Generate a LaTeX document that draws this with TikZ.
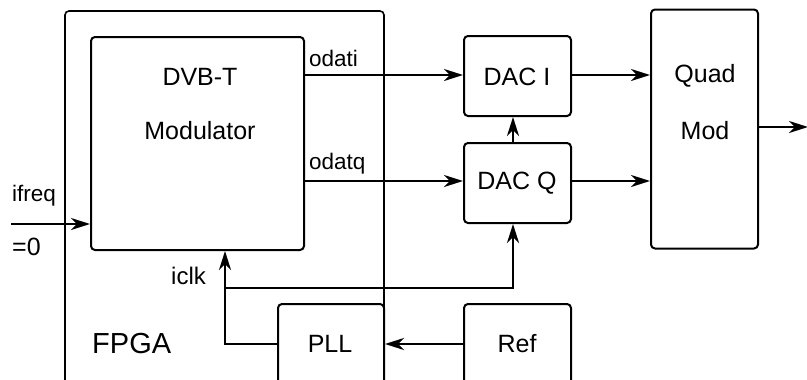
\documentclass[tikz,border=0pt]{standalone}
\usepackage{fontspec}
\setmainfont{Liberation Sans}
\usetikzlibrary{arrows.meta}
\begin{document}
\begin{tikzpicture}[x=1pt,y=-1pt,
  box/.style={draw, line width=2pt, rounded corners=4pt, inner sep=0pt},
  outer/.style={draw, line width=1.6pt, rounded corners=4pt, inner sep=0pt},
  arr/.style={line width=2.6pt, -{Stealth[length=19pt,width=12pt,inset=6pt]}},
  wire/.style={line width=2.6pt},
  big/.style={font=\fontsize{25}{28}\selectfont, inner sep=0pt},
  small/.style={font=\fontsize{22.5}{26}\selectfont, inner sep=0pt, anchor=west},
]
\useasboundingbox (0,0) rectangle (807,380);
\clip (0,0) rectangle (807,380);
% boxes
\node[outer, minimum width=319pt, minimum height=399pt] (fpga) at (224.5,210.5) {};
\node[box, minimum width=213pt, minimum height=213pt] (dvb) at (197.5,143.5) {};
\node[box, minimum width=107pt, minimum height=80pt] (daci) at (517.5,76) {};
\node[box, minimum width=107pt, minimum height=80pt] (dacq) at (517.5,183) {};
\node[box, minimum width=107pt, minimum height=239pt] (quad) at (704.5,129) {};
\node[box, minimum width=106pt, minimum height=116pt] (pll) at (331,362) {};
\node[box, minimum width=107pt, minimum height=116pt] (ref) at (517.5,362) {};
% texts
\node[big] (t1) at (200,77) {DVB-T};
\node[big] (t2) at (200,131) {Modulator};
\node[big] (t3) at (517,77) {DAC I};
\node[big] (t4) at (517,183) {DAC Q};
\node[big] (t5) at (705,76) {Quad};
\node[big] (t6) at (705,131) {Mod};
\node[big] (t7) at (330,344) {PLL};
\node[big] (t8) at (517,344) {Ref};
\node[font=\fontsize{29}{32}\selectfont, inner sep=0pt, anchor=west] (t9) at (92,344) {FPGA};
\node[small] (l1) at (309,58) {odati};
\node[small] (l2) at (309,164) {odatq};
\node[small] (l3) at (12,196) {ifreq};
\node[small, font=\fontsize{25}{28}\selectfont] (l4) at (12,247) {=0};
\node[small, font=\fontsize{24}{27}\selectfont] (l5) at (171,276) {iclk};
% coordinates
\coordinate (row) at (0,344);
\coordinate (ck) at (225,288);
\coordinate (inl) at (11,224);
\coordinate (outr) at (808,127);
% connectors
\draw[arr] (dvb.east |- 0,75) -- (daci.west |- 0,75);
\draw[arr] (dvb.east |- 0,181) -- (dacq.west |- 0,181);
\draw[arr] (daci.east |- 0,75) -- (quad.west |- 0,75);
\draw[arr] (dacq.east |- 0,181) -- (quad.west |- 0,181);
\draw[arr] ([xshift=-4.5pt]dacq.north) -- ([xshift=-4.5pt]daci.south);
\draw[arr] (quad.east |- outr) -- (outr);
\draw[arr] (inl) -- (dvb.west |- inl);
\draw[arr] (ref.west |- row) -- (pll.east |- row);
\draw[wire] (pll.west |- row) -| (ck);
\draw[arr] (ck) -- (ck |- dvb.south);
\draw[arr] (ck) -| ([xshift=-4.5pt]dacq.south);
\end{tikzpicture}
\end{document}
